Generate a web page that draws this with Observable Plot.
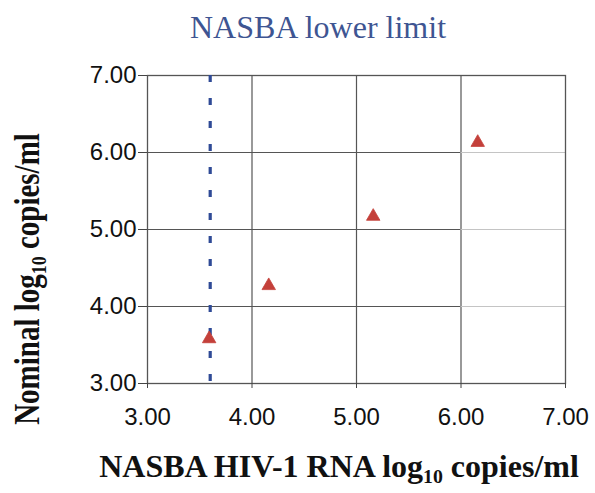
<!DOCTYPE html>
<html><head><meta charset="utf-8">
<script src="https://cdn.jsdelivr.net/npm/d3@7"></script>
<script src="https://cdn.jsdelivr.net/npm/@observablehq/plot@0.6"></script>
<style>body{margin:0;background:#fff}#chart svg{display:block}</style>
</head><body><div id="chart"></div>
<script>
const measured = [3.59, 4.16, 5.16, 6.16];
const nominal = [3.58, 4.27, 5.17, 6.13];
const lowerLimit = 3.6;
const xTicks = [3, 4, 5, 6, 7];
const yTicks = [3, 4, 5, 6, 7];
const gridValues = [4, 5, 6];
const darkGridEnd = 6;
const titleText = "NASBA lower limit";
const xLabelParts = ["NASBA HIV-1 RNA log", "10", " copies/ml"];
const yLabelParts = ["Nominal log", "10", " copies/ml"];

const data = measured.map((x, i) => ({x, y: nominal[i]}));
const fmt = d3.format(".2f");

const chart = Plot.plot({
  width: 595, height: 493,
  marginTop: 75, marginLeft: 147, marginRight: 30, marginBottom: 110,
  x: {domain: [3, 7]},
  y: {domain: [3, 7]},
  style: {fontFamily: "'Liberation Sans', Arial, sans-serif", fontSize: "24px", color: "#111", background: "#fff"},
  marks: [
    Plot.ruleX(gridValues, {stroke: "#555", strokeWidth: 1.2}),
    Plot.ruleY(gridValues, {x1: 3, x2: darkGridEnd, stroke: "#555", strokeWidth: 1.2}),
    Plot.ruleY(gridValues, {x1: darkGridEnd, x2: 7, stroke: "#c4c4c4", strokeWidth: 1.2}),
    Plot.frame({stroke: "#555", strokeWidth: 1.3}),
    Plot.ruleX([lowerLimit], {stroke: "#2f4a96", strokeWidth: 3.2, strokeDasharray: "7,16"}),
    Plot.dot(data, {x: "x", y: "y", symbol: "triangle", r: 5, fill: "#c4403a", stroke: "#c4403a", strokeWidth: 0.8}),
    Plot.axisX({ticks: xTicks, tickFormat: fmt, tickSize: 5, tickPadding: 19, label: null, stroke: "#444"}),
    Plot.axisY({ticks: yTicks, tickFormat: fmt, tickSize: 9, tickPadding: 2, label: null, stroke: "#444"})
  ]
});
document.getElementById("chart").appendChild(chart);

const svg = d3.select(chart);
function addLabel(parts, opts) {
  const t = svg.append("text")
    .attr("text-anchor", "middle")
    .attr("font-family", "'Liberation Serif', 'Times New Roman', serif")
    .attr("font-size", opts.size)
    .attr("font-weight", opts.weight || "normal")
    .attr("fill", opts.fill || "#111")
    .attr("transform", opts.transform);
  parts.forEach((p, i) => {
    const s = t.append("tspan").text(p);
    if (i === 1) s.attr("font-size", opts.size * 0.62).attr("dy", opts.size * 0.2);
    if (i === 2) s.attr("dy", -opts.size * 0.2);
  });
  return t;
}
addLabel([titleText], {size: 32, fill: "#3e5592", transform: "translate(318,38)"});
addLabel(xLabelParts, {size: 32, weight: "bold", transform: "translate(339,477)"});
addLabel(yLabelParts, {size: 29, weight: "bold", transform: "translate(39,279) rotate(-90) scale(1,1.2)"});
</script></body></html>
